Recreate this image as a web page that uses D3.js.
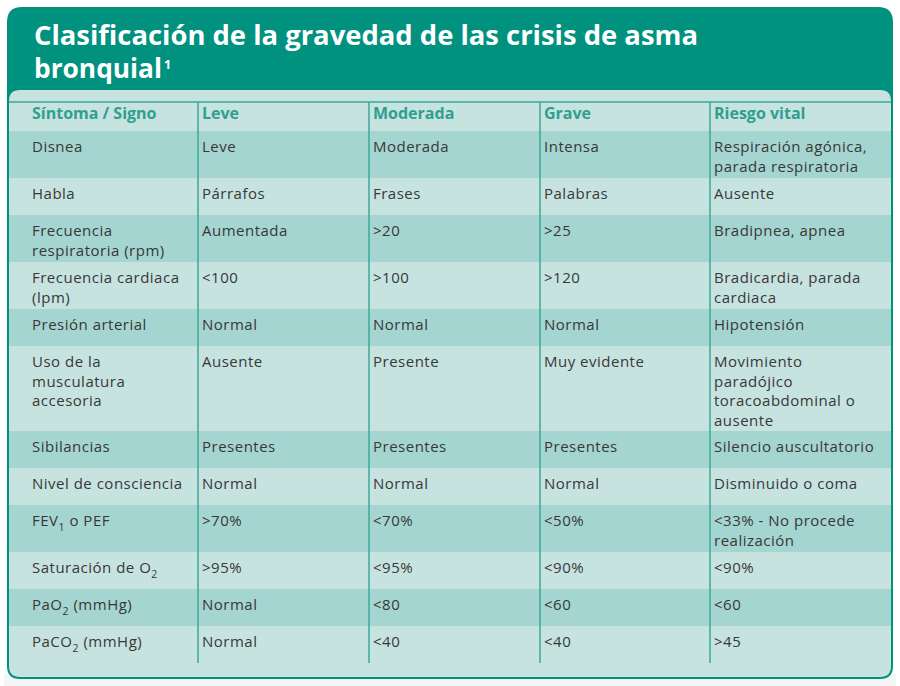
<!DOCTYPE html>
<html><head><meta charset="utf-8">
<script src="https://cdn.jsdelivr.net/npm/d3@7"></script>
<style>html,body{margin:0;padding:0;background:#fff;}svg{display:block;}</style>
</head><body>
<svg id="c" width="900" height="686"></svg>
<script>
// ---- data ----
const title = ["Clasificación de la gravedad de las crisis de asma", "bronquial"];
const titleSup = "1";
const headers = ["Síntoma / Signo", "Leve", "Moderada", "Grave", "Riesgo vital"];
const sintomas = ["Disnea", "Habla", "Frecuencia\nrespiratoria (rpm)", "Frecuencia cardiaca\n(lpm)", "Presión arterial",
  "Uso de la\nmusculatura\naccesoria", "Sibilancias", "Nivel de consciencia", "FEV_1 o PEF", "Saturación de O_2",
  "PaO_2 (mmHg)", "PaCO_2 (mmHg)"];
const leve = ["Leve", "Párrafos", "Aumentada", "<100", "Normal", "Ausente", "Presentes", "Normal", ">70%", ">95%", "Normal", "Normal"];
const moderada = ["Moderada", "Frases", ">20", ">100", "Normal", "Presente", "Presentes", "Normal", "<70%", "<95%", "<80", "<40"];
const grave = ["Intensa", "Palabras", ">25", ">120", "Normal", "Muy evidente", "Presentes", "Normal", "<50%", "<90%", "<60", "<40"];
const riesgoVital = ["Respiración agónica,\nparada respiratoria", "Ausente", "Bradipnea, apnea", "Bradicardia, parada\ncardiaca",
  "Hipotensión", "Movimiento\nparadójico\ntoracoabdominal o\nausente", "Silencio auscultatorio", "Disminuido o coma",
  "<33% - No procede\nrealización", "<90%", "<60", ">45"];

// ---- layout ----
const teal = "#00917f", lineTeal = "#3aa99b", hdrText = "#2f9f90";
const dark = "#a4d5d0", light = "#c7e3e0", textCol = "#383838";
const svg = d3.select("#c");
const font = "'Open Sans', sans-serif";

const columns = [sintomas, leve, moderada, grave, riesgoVital];
const colEdges = [9, 198, 369, 540, 710, 891];
const xCol = d3.scaleOrdinal().domain(d3.range(5)).range(colEdges.slice(0, 5));
const textX = i => i === 0 ? 32 : xCol(i) + 4;

const lineH = 19.5;
const nLines = sintomas.map((_, r) => d3.max(columns, c => c[r].split("\n").length));
const rowH = nLines.map(n => Math.max(37, 9 + 19 * n));
const rowTop = [];
let acc = 131;
rowH.forEach(h => { rowTop.push(acc); acc += h; });
const tableBottom = acc;

function roundRect(x0, y0, x1, y1, rt, rb) {
  return `M${x0},${y0 + rt} Q${x0},${y0} ${x0 + rt},${y0} L${x1 - rt},${y0} Q${x1},${y0} ${x1},${y0 + rt} L${x1},${y1 - rb} Q${x1},${y1} ${x1 - rb},${y1} L${x0 + rb},${y1} Q${x0},${y1} ${x0},${y1 - rb} Z`;
}
svg.append("rect").attr("x", 4).attr("y", 674).attr("width", 892).attr("height", 12).attr("fill", "#f4f5f5");
svg.append("path").attr("d", roundRect(7, 7, 893, 679, 15, 13)).attr("fill", teal);
svg.append("path").attr("d", roundRect(9, 90, 891, 677, 11, 11)).attr("fill", light);

// rows
svg.append("g").selectAll("rect").data(rowTop).join("rect")
  .attr("x", 9).attr("width", 882)
  .attr("y", d => d).attr("height", (d, i) => rowH[i])
  .attr("fill", (d, i) => i % 2 === 0 ? dark : light);

svg.append("line").attr("x1", 9).attr("x2", 891).attr("y1", 102).attr("y2", 102)
  .attr("stroke", lineTeal).attr("stroke-width", 1.5);
svg.append("g").selectAll("line").data(d3.range(1, 5)).join("line")
  .attr("x1", d => xCol(d)).attr("x2", d => xCol(d))
  .attr("y1", 102).attr("y2", tableBottom)
  .attr("stroke", lineTeal).attr("stroke-width", 1.5);

// title
const tg = svg.append("g").attr("fill", "#fff").attr("font-family", font).attr("font-weight", 700).attr("font-size", 26);
tg.append("text").attr("x", 34).attr("y", 45).attr("textLength", 664).attr("lengthAdjust", "spacingAndGlyphs").text(title[0]);
tg.append("text").attr("x", 34).attr("y", 78).attr("textLength", 128).attr("lengthAdjust", "spacingAndGlyphs").text(title[1]);
tg.append("text").attr("x", 164).attr("y", 69).attr("font-size", 12.5).text(titleSup);

// headers
svg.append("g").selectAll("text").data(headers).join("text")
  .attr("x", (d, i) => textX(i)).attr("y", 119)
  .attr("font-family", font).attr("font-weight", 700).attr("font-size", 16)
  .attr("fill", hdrText).text(d => d);

// cells: one text element per line
function writeLine(g, x, y, ln) {
  const t = g.append("text").attr("x", x).attr("y", y);
  const parts = ln.split(/_(\d)/);
  let pending = 0;
  parts.forEach((p, j) => {
    const s = t.append("tspan");
    if (j % 2 === 1) { s.attr("font-size", 10.5).attr("dy", 4.5); pending = -4.5; }
    else if (j > 0) { s.attr("dy", pending); pending = 0; }
    s.text(p);
  });
}
const cg = svg.append("g").attr("font-family", font).attr("font-size", 15)
  .attr("letter-spacing", 0.5).attr("fill", textCol);
columns.forEach((col, ci) => {
  col.forEach((val, r) => {
    val.split("\n").forEach((ln, k) => writeLine(cg, textX(ci), rowTop[r] + 21 + k * lineH, ln));
  });
});
</script>
</body></html>
